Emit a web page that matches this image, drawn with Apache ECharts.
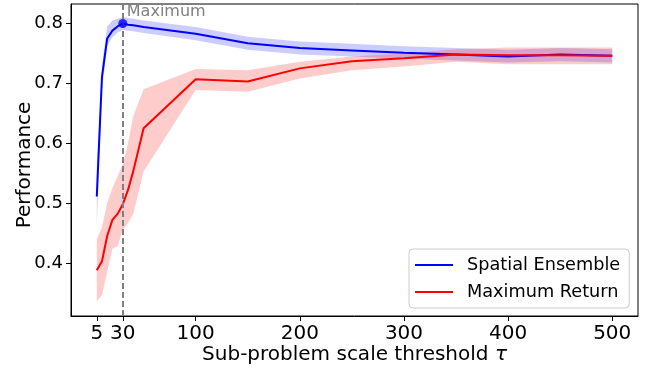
<!DOCTYPE html>
<html>
<head>
<meta charset="utf-8">
<script src="https://cdn.jsdelivr.net/npm/echarts@6/dist/echarts.min.js"></script>
<style>
html,body{margin:0;padding:0;background:#fff;}
#chart{width:647px;height:370px;}
</style>
</head>
<body>
<div id="chart"></div>
<script>
// x values (sub-problem scale threshold tau)
var thresholds = [5, 10, 15, 20, 25, 30, 35, 40, 50, 100, 150, 200, 250, 300, 350, 400, 450, 500];
// Spatial Ensemble
var spatialMean  = [0.511, 0.711, 0.775, 0.788, 0.795, 0.800, 0.798, 0.797, 0.794, 0.783, 0.767, 0.759, 0.755, 0.751, 0.748, 0.745, 0.748, 0.746];
var spatialLower = [0.462, 0.690, 0.762, 0.777, 0.785, 0.789, 0.788, 0.787, 0.784, 0.772, 0.756, 0.748, 0.745, 0.741, 0.738, 0.735, 0.737, 0.735];
var spatialUpper = [0.560, 0.730, 0.795, 0.805, 0.808, 0.811, 0.809, 0.808, 0.805, 0.794, 0.778, 0.770, 0.766, 0.762, 0.759, 0.756, 0.759, 0.757];
// Maximum Return
var returnMean  = [0.388, 0.403, 0.445, 0.472, 0.482, 0.498, 0.522, 0.553, 0.625, 0.707, 0.703, 0.725, 0.737, 0.742, 0.748, 0.747, 0.747, 0.746];
var returnLower = [0.336, 0.346, 0.385, 0.424, 0.428, 0.455, 0.467, 0.482, 0.553, 0.689, 0.686, 0.708, 0.722, 0.728, 0.736, 0.732, 0.732, 0.732];
var returnUpper = [0.440, 0.460, 0.500, 0.525, 0.545, 0.565, 0.600, 0.645, 0.690, 0.724, 0.722, 0.736, 0.745, 0.750, 0.757, 0.760, 0.760, 0.760];
// tick labels
var xTicks = [5, 30, 100, 200, 300, 400, 500];
var yTicks = [0.4, 0.5, 0.6, 0.7, 0.8];
var seriesNames = ['Spatial Ensemble', 'Maximum Return'];
var markerText = 'Maximum';

function pairs(xs, ys) { return xs.map(function (x, i) { return [x, ys[i]]; }); }
function triples(xs, lo, hi) { return xs.map(function (x, i) { return [x, lo[i], hi[i]]; }); }

var maxIdx = 0;
spatialMean.forEach(function (v, i) { if (v > spatialMean[maxIdx]) maxIdx = i; });
var maxX = thresholds[maxIdx];
var maxY = spatialMean[maxIdx];

function bandRenderer(fill) {
  return function (params, api) {
    if (params.dataIndexInside !== 0) return null;
    var n = params.dataInsideLength;
    var top = [], bottom = [];
    for (var i = 0; i < n; i++) {
      var x = api.value(0, i), lo = api.value(1, i), hi = api.value(2, i);
      top.push(api.coord([x, hi]));
      bottom.push(api.coord([x, lo]));
    }
    var pts = top.concat(bottom.reverse());
    return {type: 'polygon', shape: {points: pts}, style: {fill: fill, stroke: null}, silent: true};
  };
}

var FONT = 'DejaVu Sans';
var chart = echarts.init(document.getElementById('chart'), null, {renderer: 'canvas'});

var option = {
  animation: false,
  backgroundColor: '#fff',
  textStyle: {fontFamily: FONT},
  grid: {left: 71, right: 9, top: 4, bottom: 54, show: true, borderColor: '#000', borderWidth: 1,
         backgroundColor: 'transparent', containLabel: false, outerBoundsMode: 'none'},
  xAxis: {
    type: 'value', min: -19.75, max: 524.75,
    axisLine: {show: true, onZero: false, lineStyle: {color: '#000', width: 1}},
    axisTick: {show: true, length: 5, customValues: xTicks, lineStyle: {color: '#000'}},
    axisLabel: {show: true, customValues: xTicks, fontSize: 20, color: '#000', margin: 8, fontFamily: FONT},
    splitLine: {show: false},
    name: 'Sub-problem scale threshold {i|τ}',
    nameLocation: 'middle', nameGap: 29, nameMoveOverlap: false,
    nameTextStyle: {fontSize: 20, color: '#000', fontFamily: FONT,
      rich: {i: {fontSize: 20, fontStyle: 'italic', color: '#000', fontFamily: FONT}}}
  },
  yAxis: {
    type: 'value', min: 0.3115, max: 0.8325,
    axisLine: {show: true, onZero: false, lineStyle: {color: '#000', width: 1}},
    axisTick: {show: true, length: 5, customValues: yTicks, lineStyle: {color: '#000'}},
    axisLabel: {show: true, customValues: yTicks, fontSize: 18, color: '#000', margin: 8, fontFamily: FONT,
      formatter: function (v) { return (+v).toFixed(1); }},
    splitLine: {show: false},
    name: 'Performance', nameLocation: 'middle', nameGap: 36, nameMoveOverlap: false,
    nameTextStyle: {fontSize: 20, color: '#000', fontFamily: FONT, padding: [0, 10, 0, 0]}
  },
  legend: {
    data: seriesNames,
    orient: 'vertical', left: 409, top: 249,
    padding: [7, 9, 7, 6],
    itemWidth: 38, itemHeight: 2, itemGap: 9,
    icon: 'rect',
    borderColor: '#cccccc', borderWidth: 1, borderRadius: 4,
    backgroundColor: 'rgba(255,255,255,0.8)',
    textStyle: {fontSize: 17.7, color: '#000', fontFamily: FONT, padding: [0, 0, 0, 9]}
  },
  series: [
    {name: 'sBand', type: 'custom', renderItem: bandRenderer('rgba(0,0,255,0.2)'),
     data: triples(thresholds, spatialLower, spatialUpper), encode: {x: 0, y: [1, 2]}, silent: true, z: 1},
    {name: 'rBand', type: 'custom', renderItem: bandRenderer('rgba(255,0,0,0.2)'),
     data: triples(thresholds, returnLower, returnUpper), encode: {x: 0, y: [1, 2]}, silent: true, z: 1},
    {name: seriesNames[0], type: 'line', data: pairs(thresholds, spatialMean), symbol: 'none',
     color: '#0000ff', lineStyle: {color: '#0000ff', width: 2}, z: 3},
    {name: seriesNames[1], type: 'line', data: pairs(thresholds, returnMean), symbol: 'none',
     color: '#ff0000', lineStyle: {color: '#ff0000', width: 2}, z: 4,
     markLine: {silent: true, symbol: ['none', 'none'], label: {show: false},
       lineStyle: {type: [6, 3], color: '#808080', width: 2},
       data: [{xAxis: maxX}]},
     markPoint: {silent: true, symbol: 'circle', symbolSize: 0,
       data: [{coord: [maxX, 0.8325]}],
       label: {show: true, formatter: markerText, position: [4, 0], align: 'left', verticalAlign: 'top',
         fontSize: 16, color: '#808080', fontFamily: FONT}}},
    {name: 'maxPoint', type: 'scatter', data: [[maxX, maxY]], symbol: 'circle', symbolSize: 9,
     itemStyle: {color: '#0000ff'}, z: 6}
  ]
};
chart.setOption(option);
</script>
</body>
</html>
